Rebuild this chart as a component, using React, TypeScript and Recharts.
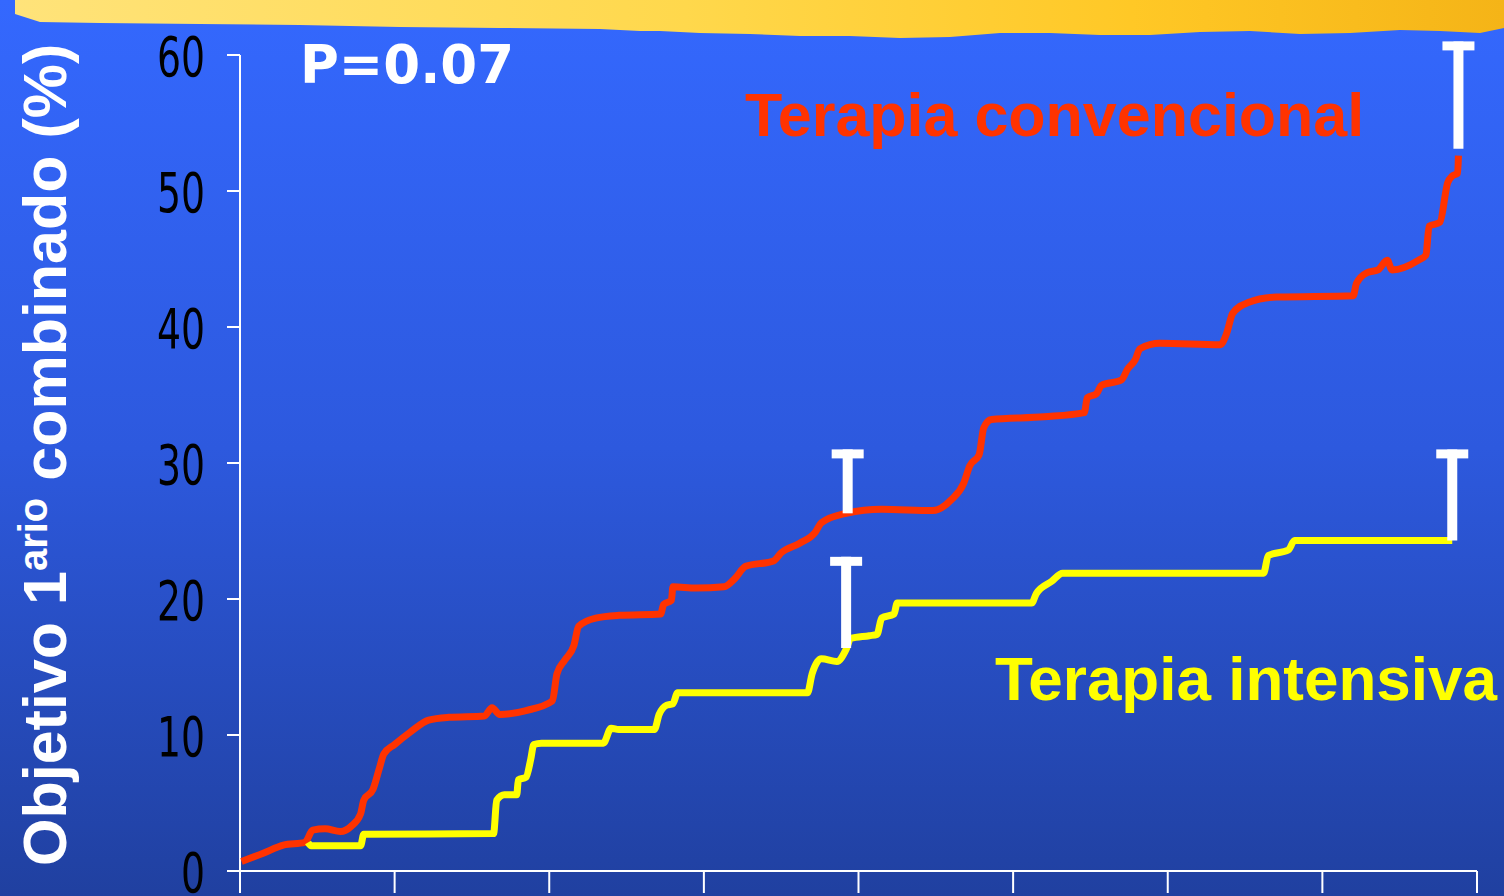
import { Line, LineChart, ReferenceLine, XAxis, YAxis } from 'recharts'

// Terapia convencional (red), cumulative %
const convTime = [
  0.01, 0.15, 0.28, 0.42, 0.47, 0.55, 0.65, 0.72, 0.78, 0.8, 0.86, 0.9, 0.93, 1.0, 1.1, 1.22, 1.35,
  1.58, 1.63, 1.68, 1.85, 2.02, 2.05, 2.1, 2.16, 2.19, 2.3, 2.45, 2.72, 2.74, 2.79, 2.8, 2.95, 3.13,
  3.2, 3.27, 3.45, 3.5, 3.62, 3.72, 3.76, 3.92, 4.15, 4.48, 4.6, 4.68, 4.72, 4.78, 4.81, 4.86, 5.2,
  5.46, 5.48, 5.54, 5.57, 5.7, 5.74, 5.79, 5.82, 5.95, 6.34, 6.38, 6.42, 6.52, 6.7, 7.2, 7.22, 7.29,
  7.36, 7.42, 7.45, 7.62, 7.67, 7.69, 7.76, 7.81, 7.84, 7.875, 7.88,
]
const convRate = [
  0.7, 1.3, 1.9, 2.1, 3.0, 3.1, 2.9, 3.3, 4.2, 5.2, 6.0, 7.5, 8.6, 9.3, 10.2, 11.1, 11.3,
  11.4, 12.0, 11.5, 11.8, 12.5, 14.5, 15.5, 16.6, 18.0, 18.6, 18.8, 18.9, 19.6, 19.9, 20.9, 20.8, 20.9,
  21.5, 22.4, 22.8, 23.4, 24.1, 24.9, 25.6, 26.3, 26.6, 26.5, 27.3, 28.5, 29.8, 30.6, 32.6, 33.2, 33.4,
  33.7, 34.8, 35.1, 35.7, 36.1, 36.9, 37.6, 38.4, 38.8, 38.7, 39.5, 41.0, 41.8, 42.2, 42.3, 43.2, 44.0,
  44.2, 44.9, 44.2, 44.9, 45.3, 47.4, 47.7, 50.6, 51.1, 51.3, 52.6,
]

// Terapia intensiva (yellow), cumulative %
const intTime = [
  0.44, 0.46, 0.78, 0.8, 1.64, 1.66, 1.71, 1.79, 1.8, 1.85, 1.88, 1.9, 1.95, 2.35, 2.4, 2.45, 2.68,
  2.71, 2.76, 2.8, 2.83, 3.67, 3.7, 3.76, 3.86, 3.92, 3.95, 4.07, 4.12, 4.15, 4.23, 4.25, 5.12, 5.15,
  5.25, 5.32, 6.62, 6.65, 6.78, 6.82, 7.84,
]
const intRate = [
  2.1, 1.85, 1.85, 2.7, 2.75, 5.2, 5.6, 5.6, 6.7, 6.9, 8.2, 9.3, 9.4, 9.4, 10.5, 10.4, 10.4,
  11.5, 12.2, 12.3, 13.1, 13.1, 14.5, 15.6, 15.4, 16.3, 17.1, 17.3, 17.4, 18.6, 18.9, 19.7, 19.7, 20.4,
  21.3, 21.9, 21.9, 23.2, 23.6, 24.3, 24.3,
]

// error bars (upper side only)
const convErrTime = [3.93, 7.88]
const convErrLow = [26.3, 53.1]
const convErrHigh = [31.0, 61.0]
const intErrTime = [3.92, 7.84]
const intErrLow = [16.4, 24.3]
const intErrHigh = [23.1, 31.0]

const yTicks = [0, 10, 20, 30, 40, 50, 60]
const xTicks = [0, 1, 2, 3, 4, 5, 6, 7, 8]

const conv = convTime.map((t, i) => ({ t, v: convRate[i] }))
const intensive = intTime.map((t, i) => ({ t, v: intRate[i] }))
const errBars = [
  ...convErrTime.map((t, i) => [
    { t, v: convErrLow[i] },
    { t, v: convErrHigh[i] },
  ]),
  ...intErrTime.map((t, i) => [
    { t, v: intErrLow[i] },
    { t, v: intErrHigh[i] },
  ]),
]

function Cap(props: any) {
  const { cx, cy, index } = props
  if (index !== 1) return <g key={`cap-${index}`} />
  return <rect key={`cap-${index}`} x={cx - 16} y={cy} width={32} height={9} fill="#ffffff" />
}

function YTick(props: any) {
  const { x, y, payload } = props
  const label = String(payload.value)
  return (
    <text
      x={x}
      y={y}
      dy={21}
      textAnchor="end"
      fill="#000000"
      fontSize={56}
      fontFamily="'DejaVu Sans Condensed', 'DejaVu Sans', sans-serif"
      textLength={24 * label.length}
      lengthAdjust="spacingAndGlyphs"
    >
      {label}
    </text>
  )
}

const strip =
  'M15,0 L1504,0 L1504,28 L1480,33 L1440,31 L1400,30 L1350,33 L1300,34 L1250,31 L1200,32 L1150,35 ' +
  'L1100,35 L1050,33 L1000,33 L950,37 L900,38 L850,36 L800,36 L750,34 L700,33 L660,31 L640,31 L600,29 ' +
  'L500,28 L400,27 L300,25 L200,24 L100,23 L40,22 L15,14 Z'

export default function App() {
  return (
    <div
      style={{
        position: 'absolute',
        left: 0,
        top: 0,
        width: 1504,
        height: 896,
        overflow: 'hidden',
        background: 'linear-gradient(to bottom, #3468fe 0%, #2d59de 50%, #2040a0 100%)',
      }}
    >
      <svg width={1504} height={896} style={{ position: 'absolute', left: 0, top: 0 }}>
        <defs>
          <linearGradient id="strip" x1="0" y1="0" x2="1" y2="0">
            <stop offset="0%" stopColor="#ffe37a" />
            <stop offset="45%" stopColor="#ffd84c" />
            <stop offset="75%" stopColor="#ffc826" />
            <stop offset="100%" stopColor="#f5b417" />
          </linearGradient>
        </defs>
        <path d={strip} fill="url(#strip)" />
      </svg>

      <div style={{ position: 'absolute', left: 0, top: 0 }}>
        <LineChart width={1504} height={896} margin={{ top: 27.8, right: 27, bottom: 0, left: 0 }}>
          <XAxis
            type="number"
            dataKey="t"
            domain={[0, 8]}
            ticks={xTicks}
            interval={0}
            tickFormatter={() => ''}
            height={25}
            tickSize={22}
            stroke="#ffffff"
            strokeWidth={2}
          />
          <YAxis
            type="number"
            domain={[0, 62]}
            ticks={yTicks}
            interval={0}
            width={240}
            tickSize={13}
            tickMargin={22}
            axisLine={false}
            tickLine={{ stroke: '#ffffff', strokeWidth: 2 }}
            tick={<YTick />}
          />
          <ReferenceLine
            segment={[
              { x: 0, y: 0 },
              { x: 0, y: 60 },
            ]}
            stroke="#ffffff"
            strokeWidth={2}
          />
          <Line
            data={conv}
            dataKey="v"
            type="monotone"
            stroke="#ff3300"
            strokeWidth={7}
            dot={false}
            activeDot={false}
            isAnimationActive={false}
          />
          <Line
            data={intensive}
            dataKey="v"
            type="monotone"
            stroke="#ffff00"
            strokeWidth={7}
            dot={false}
            activeDot={false}
            isAnimationActive={false}
          />
          {errBars.map((d, i) => (
            <Line
              key={`err-${i}`}
              data={d}
              dataKey="v"
              type="linear"
              stroke="#ffffff"
              strokeWidth={10}
              dot={Cap}
              activeDot={false}
              isAnimationActive={false}
            />
          ))}
        </LineChart>
      </div>

      <svg
        width={1504}
        height={896}
        style={{ position: 'absolute', left: 0, top: 0, pointerEvents: 'none' }}
      >
        <text x={300} y={83} fill="#ffffff" fontSize={53} fontWeight="bold" fontFamily="'DejaVu Sans', sans-serif">
          P=0.07
        </text>
        <text x={745} y={136} fill="#ff3300" fontSize={61} fontWeight="bold" fontFamily="'Liberation Sans', Arial, sans-serif">
          Terapia convencional
        </text>
        <text x={995} y={700} fill="#ffff00" fontSize={62} fontWeight="bold" fontFamily="'Liberation Sans', Arial, sans-serif">
          Terapia intensiva
        </text>
        <text
          transform="translate(66, 866) rotate(-90)"
          fill="#ffffff"
          fontSize={61}
          fontWeight="bold"
          fontFamily="'Liberation Sans', Arial, sans-serif"
        >
          Objetivo 1
          <tspan fontSize={40} dy={-19}>
            ario
          </tspan>
          <tspan dy={19}> combinado (%)</tspan>
        </text>
      </svg>
    </div>
  )
}
